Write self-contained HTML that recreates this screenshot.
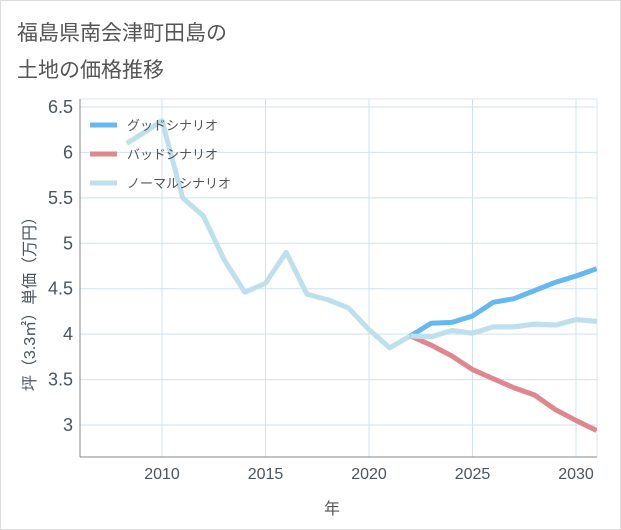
<!DOCTYPE html>
<html><head><meta charset="utf-8"><style>
body{margin:0;background:#fff;font-family:"Liberation Sans","Noto Sans CJK JP",sans-serif;}
#wrap{position:relative;width:619px;height:528px;border:1px solid #ddd;background:#fff;}
</style></head><body>
<div id="wrap">
<svg id="svg" width="621" height="530" style="position:absolute;left:-1px;top:-1px"></svg>
</div>
<script>
const years=[2008.3,2009,2010,2011,2012,2013,2014,2015,2016,2017,2018,2019,2020,2021,2022,2023,2024,2025,2026,2027,2028,2029,2030,2031];
const normal=[6.1,6.2,6.35,5.5,5.3,4.82,4.46,4.56,4.9,4.44,4.38,4.29,4.05,3.85,3.98,3.97,4.04,4.01,4.08,4.08,4.11,4.1,4.16,4.14];
const goodYears=[2022,2023,2024,2025,2026,2027,2028,2029,2030,2031];
const good=[3.98,4.12,4.13,4.2,4.35,4.39,4.48,4.57,4.64,4.72];
const bad=[3.98,3.88,3.76,3.61,3.51,3.41,3.33,3.17,3.05,2.94];
const xTicks=[2010,2015,2020,2025,2030];
const yTicks=[3,3.5,4,4.5,5,5.5,6,6.5];
const yTickLabels=["3","3.5","4","4.5","5","5.5","6","6.5"];
const svg=document.getElementById('svg');const NS="http://www.w3.org/2000/svg";
const L=80,R=597,T=99,B=457;
const x=v=>162+(v-2010)*(576-162)/20;
const y=v=>425-(v-3)*(425-107)/3.5;
function mk(t,a,name,par){const e=document.createElementNS(NS,t);for(const k in a)e.setAttribute(k,a[k]);


(par||svg).appendChild(e);return e;}
function txt(s,a,name){const e=mk('text',a,name);e.textContent=s;return e;}
txt("福島県南会津町田島の",{x:17,y:40,'font-size':21,fill:'#555'},'title-line1');
txt("土地の価格推移",{x:17,y:77,'font-size':21,fill:'#555'},'title-line2');
mk('rect',{x:L,y:T,width:R-L,height:B-T,fill:'#fff',stroke:'#dde6ec'},'plot-area');
xTicks.forEach(t=>{mk('line',{x1:x(t),x2:x(t),y1:T,y2:B,stroke:'#cfe3ee','stroke-width':1},'x-grid');
txt(String(t),{x:x(t),y:479,'font-size':16,fill:'#4a5560','text-anchor':'middle'},'x-tick-label');});
yTicks.forEach((t,i)=>{mk('line',{x1:L,x2:R,y1:y(t),y2:y(t),stroke:'#cfe3ee','stroke-width':1},'y-grid');
txt(yTickLabels[i],{x:73,y:y(t)+6,'font-size':18,fill:'#4a5560','text-anchor':'end'},'y-tick-label');});
mk('line',{x1:L,x2:L,y1:T,y2:B,stroke:'#888'},'y-axis');
mk('line',{x1:L,x2:R,y1:B,y2:B,stroke:'#888'},'x-axis');
const cp=mk('clipPath',{id:'cp'},'clip');mk('rect',{x:L,y:T,width:R-L,height:B-T},'clip-rect',cp);
function line(xs,ys,col,name){mk('polyline',{points:xs.map((v,i)=>x(v)+','+y(ys[i])).join(' '),fill:'none',stroke:col,'stroke-width':5,'stroke-linejoin':'round','clip-path':'url(#cp)'},name);}
line(years,normal,'#bde0ec','normal-line');
line(goodYears,bad,'#e0868e','bad-line');
line(goodYears,good,'#66b8f0','good-line');
line(years.slice(14),normal.slice(14),'#bde0ec','normal-line-future');
[["グッドシナリオ",'#66b8f0'],["バッドシナリオ",'#e0868e'],["ノーマルシナリオ",'#bde0ec']].forEach((d,i)=>{
const yy=125+i*29;mk('line',{x1:90,x2:117,y1:yy,y2:yy,stroke:d[1],'stroke-width':5},'legend-swatch');
txt(d[0],{x:127,y:yy+5,'font-size':13,fill:'#555'},'legend-label');});
txt("年",{x:332,y:514,'font-size':16,fill:'#555','text-anchor':'middle'},'x-axis-title');
txt("坪（3.3㎡）単価（万円）",{x:0,y:0,'font-size':16,fill:'#4a5560','text-anchor':'middle',transform:'translate(35,300) rotate(-90)'},'y-axis-title');
</script>
</body></html>
